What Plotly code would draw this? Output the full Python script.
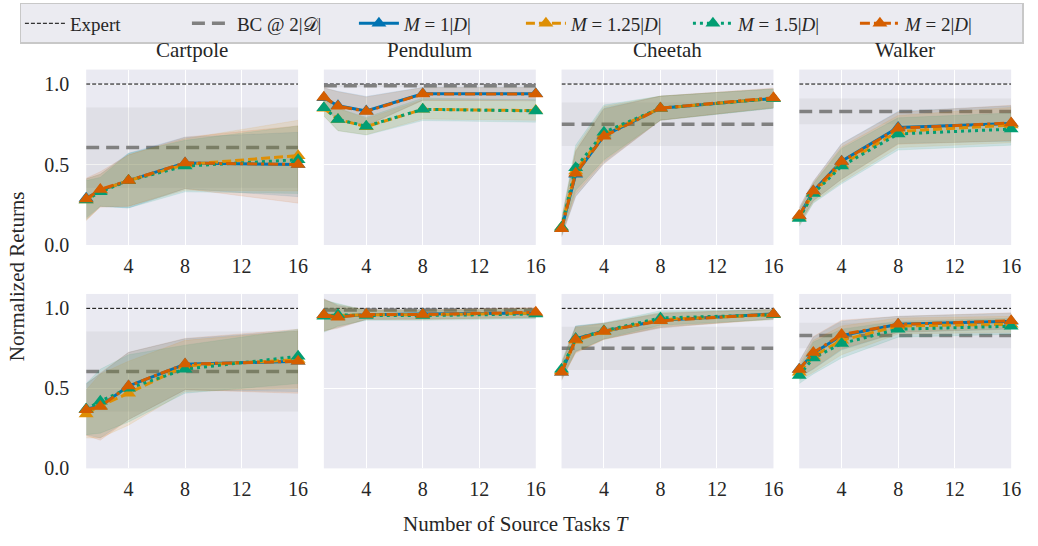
import plotly.graph_objects as go

# Number of source tasks on the x axis
T = [1, 2, 4, 8, 16]
envs = ["Cartpole", "Pendulum", "Cheetah", "Walker"]
x_ticks = [4, 8, 12, 16]
y_ticks = [0.0, 0.5, 1.0]
y_tick_labels = ["0.0", "0.5", "1.0"]

# Reference levels per environment
expert = [1.0, 1.0, 1.0, 1.0]
bc_mean = [0.605, 0.99, 0.75, 0.83]
bc_std = [0.25, 0.01, 0.135, 0.08]

# Top row: mean / std of normalized return per environment (rows: Cartpole, Pendulum, Cheetah, Walker)
top_mean_m1 = [[0.29, 0.34, 0.40, 0.51, 0.50],
               [0.915, 0.865, 0.833, 0.94, 0.94],
               [0.10, 0.44, 0.68, 0.85, 0.91],
               [0.18, 0.335, 0.52, 0.73, 0.755]]
top_mean_m125 = [[0.28, 0.34, 0.40, 0.50, 0.555],
                 [0.85, 0.78, 0.735, 0.843, 0.835],
                 [0.11, 0.46, 0.69, 0.85, 0.91],
                 [0.17, 0.325, 0.50, 0.705, 0.745]]
top_mean_m15 = [[0.28, 0.33, 0.40, 0.49, 0.53],
                [0.853, 0.78, 0.738, 0.843, 0.833],
                [0.11, 0.48, 0.70, 0.85, 0.91],
                [0.165, 0.32, 0.49, 0.69, 0.72]]
top_mean_m2 = [[0.285, 0.345, 0.40, 0.51, 0.50],
               [0.918, 0.862, 0.83, 0.938, 0.938],
               [0.10, 0.445, 0.675, 0.85, 0.915],
               [0.183, 0.335, 0.518, 0.726, 0.758]]
top_std_m1 = [[0.12, 0.10, 0.17, 0.16, 0.20],
              [0.06, 0.09, 0.09, 0.04, 0.04],
              [0.05, 0.14, 0.17, 0.075, 0.06],
              [0.05, 0.06, 0.11, 0.10, 0.11]]
top_std_m125 = [[0.13, 0.10, 0.16, 0.16, 0.22],
                [0.05, 0.07, 0.05, 0.06, 0.06],
                [0.05, 0.14, 0.17, 0.075, 0.06],
                [0.05, 0.06, 0.11, 0.10, 0.11]]
top_std_m15 = [[0.12, 0.09, 0.17, 0.16, 0.21],
               [0.05, 0.07, 0.055, 0.07, 0.07],
               [0.05, 0.14, 0.17, 0.075, 0.06],
               [0.05, 0.06, 0.11, 0.10, 0.10]]
top_std_m2 = [[0.13, 0.11, 0.16, 0.16, 0.24],
              [0.06, 0.09, 0.09, 0.04, 0.04],
              [0.05, 0.14, 0.17, 0.075, 0.06],
              [0.05, 0.06, 0.11, 0.10, 0.11]]

# Bottom row
bot_mean_m1 = [[0.37, 0.39, 0.515, 0.65, 0.67],
               [0.96, 0.95, 0.96, 0.965, 0.97],
               [0.60, 0.81, 0.857, 0.925, 0.965],
               [0.62, 0.72, 0.83, 0.90, 0.92]]
bot_mean_m125 = [[0.34, 0.39, 0.47, 0.64, 0.68],
                 [0.955, 0.955, 0.96, 0.96, 0.97],
                 [0.61, 0.80, 0.855, 0.93, 0.96],
                 [0.60, 0.70, 0.80, 0.89, 0.90]]
bot_mean_m15 = [[0.37, 0.42, 0.50, 0.62, 0.70],
                [0.95, 0.96, 0.955, 0.955, 0.965],
                [0.62, 0.81, 0.86, 0.94, 0.96],
                [0.58, 0.69, 0.78, 0.87, 0.888]]
bot_mean_m2 = [[0.366, 0.386, 0.515, 0.652, 0.669],
               [0.96, 0.945, 0.962, 0.962, 0.975],
               [0.60, 0.806, 0.857, 0.922, 0.965],
               [0.618, 0.724, 0.836, 0.90, 0.922]]
bot_std_m1 = [[0.16, 0.20, 0.21, 0.16, 0.19],
              [0.10, 0.07, 0.03, 0.03, 0.03],
              [0.05, 0.08, 0.05, 0.045, 0.03],
              [0.05, 0.10, 0.09, 0.05, 0.05]]
bot_std_m125 = [[0.15, 0.20, 0.20, 0.16, 0.18],
                [0.10, 0.07, 0.03, 0.03, 0.03],
                [0.05, 0.08, 0.05, 0.045, 0.03],
                [0.05, 0.10, 0.09, 0.05, 0.05]]
bot_std_m15 = [[0.16, 0.20, 0.21, 0.15, 0.17],
               [0.10, 0.07, 0.03, 0.03, 0.03],
               [0.05, 0.08, 0.05, 0.045, 0.03],
               [0.05, 0.10, 0.09, 0.05, 0.05]]
bot_std_m2 = [[0.16, 0.21, 0.21, 0.16, 0.20],
              [0.10, 0.07, 0.03, 0.03, 0.03],
              [0.05, 0.08, 0.05, 0.045, 0.03],
              [0.05, 0.10, 0.09, 0.05, 0.05]]

series_names = ["<i>M</i> = 1|<i>D</i>|", "<i>M</i> = 1.25|<i>D</i>|",
                "<i>M</i> = 1.5|<i>D</i>|", "<i>M</i> = 2|<i>D</i>|"]
series_colors = ["#0173b2", "#de8f05", "#029e73", "#d55e00"]
series_rgb = ["1,115,178", "222,143,5", "2,158,115", "213,94,0"]
series_dash = ["solid", "9px,4px", "3px,4px", "10px,4px,3px,4px"]

rows_data = [
    ([top_mean_m1, top_mean_m125, top_mean_m15, top_mean_m2],
     [top_std_m1, top_std_m125, top_std_m15, top_std_m2]),
    ([bot_mean_m1, bot_mean_m125, bot_mean_m15, bot_mean_m2],
     [bot_std_m1, bot_std_m125, bot_std_m15, bot_std_m2]),
]

W, H = 1038, 546
col_px = [(87, 301), (327, 541), (567, 781), (807, 1021)]
row_px = [(71, 250), (300, 478)]
FONT = "Liberation Serif"
TXT = "#262626"
BG = "#eaeaf2"

fig = go.Figure()
layout = {}

for r, (means, stds) in enumerate(rows_data):
    for c, env in enumerate(envs):
        idx = r * 4 + c + 1
        xa = "x" if idx == 1 else f"x{idx}"
        ya = "y" if idx == 1 else f"y{idx}"
        first = (idx == 1)

        layout["xaxis" if idx == 1 else f"xaxis{idx}"] = dict(
            domain=[col_px[c][0] / W, col_px[c][1] / W], anchor=ya,
            range=[1, 16], tickvals=x_ticks, showgrid=True, gridcolor="white",
            gridwidth=1.3, zeroline=False, showline=False, ticks="",
            tickfont=dict(family=FONT, size=20, color=TXT), ticklabelstandoff=7,
        )
        layout["yaxis" if idx == 1 else f"yaxis{idx}"] = dict(
            domain=[1 - row_px[r][1] / H, 1 - row_px[r][0] / H], anchor=xa,
            range=[0, 1.09], tickvals=y_ticks, ticktext=y_tick_labels,
            showticklabels=(c == 0), showgrid=True, gridcolor="white",
            gridwidth=1.3, zeroline=False, showline=False, ticks="",
            tickfont=dict(family=FONT, size=20, color=TXT), ticklabelstandoff=16,
        )

        # expert level
        fig.add_trace(go.Scatter(
            x=[T[0], T[-1]], y=[expert[c], expert[c]], mode="lines",
            line=dict(color="black", width=1, dash="4px,2px"),
            name="Expert", legendgroup="expert", showlegend=first,
            xaxis=xa, yaxis=ya, hoverinfo="skip"))

        # behaviour cloning band and mean
        lo, hi = bc_mean[c] - bc_std[c], bc_mean[c] + bc_std[c]
        fig.add_trace(go.Scatter(
            x=[T[0], T[-1], T[-1], T[0]], y=[lo, lo, hi, hi], fill="toself",
            fillcolor="rgba(128,128,128,0.10)", line=dict(width=0), mode="lines",
            showlegend=False, xaxis=xa, yaxis=ya, hoverinfo="skip"))
        fig.add_trace(go.Scatter(
            x=[T[0], T[-1]], y=[bc_mean[c], bc_mean[c]], mode="lines",
            line=dict(color="#808080", width=3.5, dash="13px,7px"),
            name="BC @ 2|𝒟|", legendgroup="bc", showlegend=first,
            xaxis=xa, yaxis=ya, hoverinfo="skip"))

        # spread bands for each series
        for s in range(4):
            m, sd = means[s][c], stds[s][c]
            upper = [a + b for a, b in zip(m, sd)]
            lower = [a - b for a, b in zip(m, sd)]
            fig.add_trace(go.Scatter(
                x=T + T[::-1], y=upper + lower[::-1], fill="toself",
                fillcolor=f"rgba({series_rgb[s]},0.13)",
                line=dict(width=0.6, color=f"rgba({series_rgb[s]},0.15)"),
                mode="lines", showlegend=False, xaxis=xa, yaxis=ya, hoverinfo="skip"))

        # mean curves
        for s in range(4):
            fig.add_trace(go.Scatter(
                x=T, y=means[s][c], mode="lines+markers",
                line=dict(color=series_colors[s], width=3, dash=series_dash[s]),
                marker=dict(symbol="triangle-up", size=13, color=series_colors[s],
                            line=dict(width=0)),
                name=series_names[s], legendgroup=f"s{s}", showlegend=first,
                xaxis=xa, yaxis=ya, cliponaxis=False))

annotations = []
for c, env in enumerate(envs):
    annotations.append(dict(
        text=env, x=(col_px[c][0] + col_px[c][1]) / 2 / W, y=1 - 51 / H,
        xref="paper", yref="paper", showarrow=False, xanchor="center", yanchor="middle",
        font=dict(family=FONT, size=21, color=TXT)))
annotations.append(dict(
    text="Normalized Returns", x=17 / W, y=1 - 282 / H, xref="paper", yref="paper",
    showarrow=False, textangle=-90, xanchor="center", yanchor="middle",
    font=dict(family=FONT, size=21, color=TXT)))
annotations.append(dict(
    text="Number of Source Tasks <i>T</i>", x=521 / W, y=1 - 535 / H,
    xref="paper", yref="paper", showarrow=False, xanchor="center", yanchor="middle",
    font=dict(family=FONT, size=21, color=TXT)))

fig.update_layout(
    width=W, height=H, margin=dict(l=0, r=0, t=0, b=0),
    paper_bgcolor="white", plot_bgcolor=BG,
    annotations=annotations,
    legend=dict(orientation="h", x=0.5 + 8 / W, xanchor="center", y=1 - 3 / H, yanchor="top",
                bgcolor="#ebebf1", bordercolor="#c8c8c8", borderwidth=1.5,
                font=dict(family=FONT, size=19, color=TXT), itemwidth=40,
                entrywidth=112, tracegroupgap=0),
    **layout,
)

fig.write_html("out.html")
